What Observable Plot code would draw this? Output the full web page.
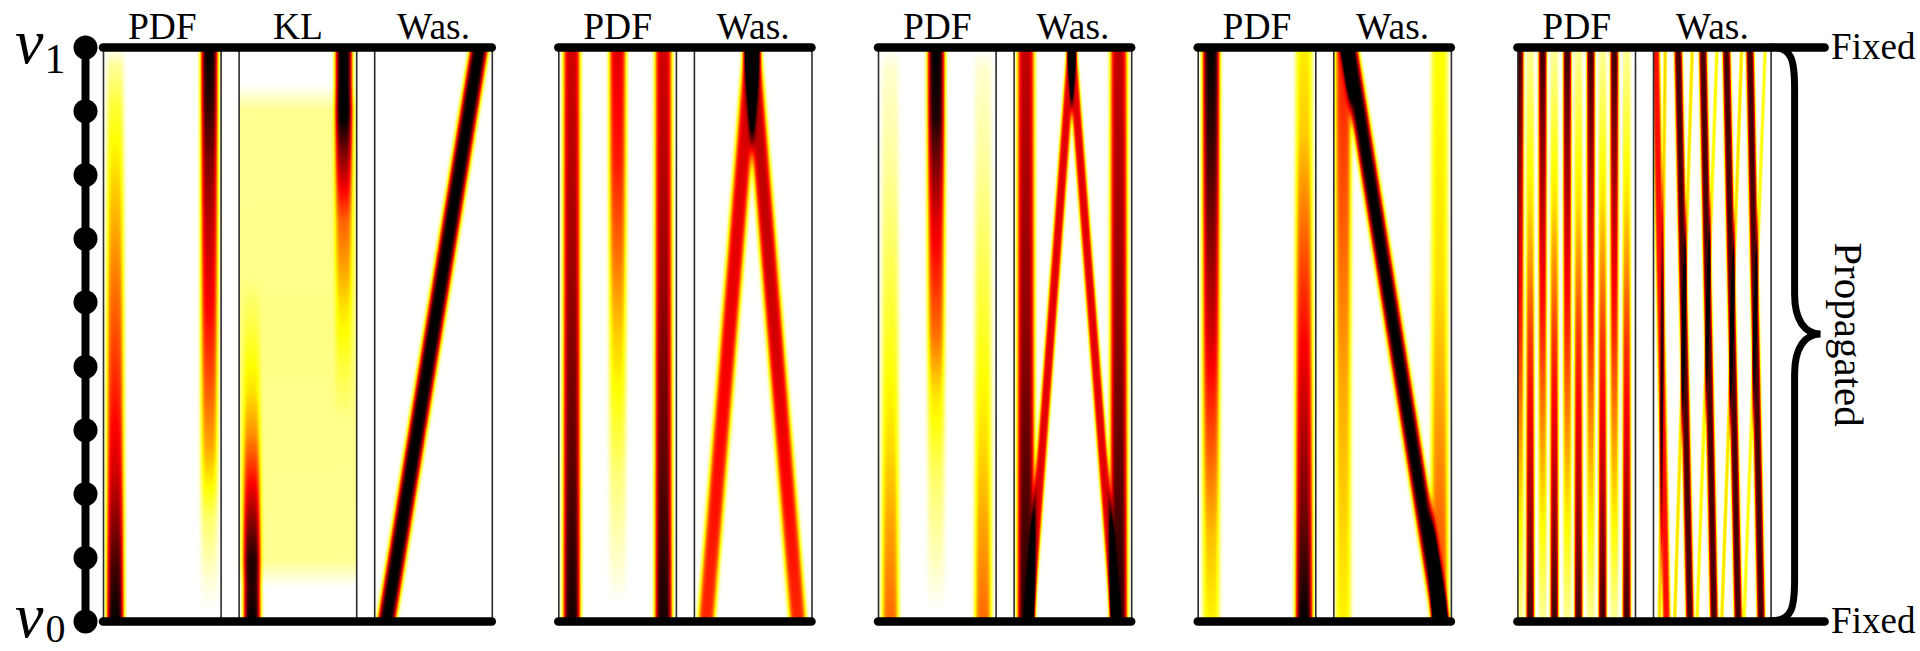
<!DOCTYPE html>
<html><head><meta charset="utf-8">
<script src="https://cdn.jsdelivr.net/npm/d3@7"></script>
<script src="https://cdn.jsdelivr.net/npm/@observablehq/plot@0.6"></script>
<style>
html,body{margin:0;padding:0;background:#fff;}
#chart svg{display:block;}
#chart svg text{font-family:"Liberation Serif","DejaVu Serif","Times New Roman",serif !important;}
</style>
</head><body><div id="chart"></div>
<script>
// ---------- data ----------
const groupTitles = [["PDF","KL","Was."],["PDF","Was."],["PDF","Was."],["PDF","Was."],["PDF","Was."]];
const nodeLevels = [0, 0.111, 0.222, 0.333, 0.444, 0.556, 0.667, 0.778, 0.889, 1];
const nodeNames = [{v:"v", sub:"1", level:1}, {v:"v", sub:"0", level:0}];
const endLabels = [{text:"Fixed", level:1}, {text:"Fixed", level:0}];
const braceLabel = "Propagated";

// each band: position in panel at top (v1) and bottom (v0), spread, peak value by level [level, value]
const pdf1 = [
  {top:0.10, bottom:0.10, spread:0.062, levels:[[1,0],[0.97,0.1],[0.9,0.2],[0.75,0.33],[0.56,0.48],[0.385,0.6],[0.26,0.7],[0.21,0.76],[0.1,0.9],[0,1]]},
  {top:0.90, bottom:0.90, spread:0.062, levels:[[1,1],[0.9,0.93],[0.8,0.82],[0.7,0.74],[0.56,0.65],[0.45,0.55],[0.385,0.48],[0.3,0.38],[0.245,0.28],[0.18,0.15],[0.07,0.04],[0.02,0]]}
];
const kl1 = [
  {top:0.10, bottom:0.11, spread:0.062, levels:[[0.6,0],[0.5,0.08],[0.4,0.18],[0.33,0.3],[0.28,0.42],[0.23,0.55],[0.18,0.68],[0.12,0.82],[0.07,0.93],[0,1]]},
  {top:0.89, bottom:0.89, spread:0.062, levels:[[1,1],[0.93,1],[0.87,0.88],[0.82,0.72],[0.76,0.55],[0.7,0.38],[0.62,0.28],[0.55,0.18],[0.45,0.08],[0.35,0]]},
  {top:0.50, bottom:0.50, spread:1.5, levels:[[1,0],[0.935,0],[0.89,0.11],[0.5,0.12],[0.107,0.11],[0.06,0]]}
];
const was1 = [
  {top:0.89, bottom:0.10, spread:0.066, levels:[[1,1],[0,1]]}
];
const pdf2 = [
  {top:0.11, bottom:0.11, spread:0.062, levels:[[1,0.7],[0.6,0.78],[0.3,0.86],[0,0.97]]},
  {top:0.50, bottom:0.50, spread:0.062, levels:[[1,0.68],[0.8,0.6],[0.65,0.48],[0.5,0.33],[0.4,0.25],[0.25,0.13],[0.1,0.05],[0.03,0]]},
  {top:0.89, bottom:0.89, spread:0.062, levels:[[1,0.7],[0.6,0.78],[0.3,0.86],[0,0.97]]}
];
const was2 = [
  {top:0.49, bottom:0.10, spread:0.062, levels:[[1,0.7],[0.5,0.66],[0,0.58]]},
  {top:0.49, bottom:0.88, spread:0.062, levels:[[1,0.74],[0.5,0.7],[0,0.58]]}
];
const pdf3 = [
  {top:0.10, bottom:0.10, spread:0.062, levels:[[1,0],[0.96,0.05],[0.8,0.1],[0.6,0.18],[0.45,0.24],[0.3,0.31],[0.15,0.4],[0,0.48]]},
  {top:0.49, bottom:0.49, spread:0.062, levels:[[1,1],[0.88,0.96],[0.8,0.83],[0.7,0.68],[0.6,0.58],[0.5,0.47],[0.4,0.3],[0.25,0.15],[0.1,0.06],[0.02,0]]},
  {top:0.89, bottom:0.89, spread:0.062, levels:[[1,0],[0.96,0.05],[0.8,0.1],[0.6,0.18],[0.45,0.24],[0.3,0.31],[0.15,0.4],[0,0.48]]}
];
const was3 = [
  {top:0.10, bottom:0.10, spread:0.062, levels:[[1,0.72],[0.5,0.8],[0,0.95]]},
  {top:0.89, bottom:0.89, spread:0.062, levels:[[1,0.72],[0.5,0.8],[0,0.95]]},
  {top:0.49, bottom:0.13, spread:0.036, levels:[[1,0.68],[0,0.68]]},
  {top:0.49, bottom:0.86, spread:0.036, levels:[[1,0.68],[0,0.68]]}
];
const pdf4 = [
  {top:0.11, bottom:0.11, spread:0.062, levels:[[1,1],[0.85,0.93],[0.7,0.83],[0.5,0.7],[0.3,0.5],[0.15,0.35],[0,0.27]]},
  {top:0.90, bottom:0.90, spread:0.062, levels:[[1,0.28],[0.85,0.33],[0.6,0.55],[0.4,0.7],[0.2,0.83],[0,1]]}
];
const was4 = [
  {top:0.08, bottom:0.08, spread:0.058, levels:[[1,0.6],[0.7,0.5],[0.4,0.38],[0,0.27]]},
  {top:0.90, bottom:0.90, spread:0.062, levels:[[1,0.25],[0.6,0.3],[0.3,0.42],[0,0.55]]},
  {top:0.13, bottom:0.91, spread:0.062, levels:[[1,1],[0,1]]}
];
const pdf5A = [0.014, 0.21, 0.42, 0.62, 0.82];
const pdf5B = [0.105, 0.31, 0.515, 0.72, 0.925];
const pdf5ALevels = [[1,0.92],[0.73,0.74],[0.5,0.58],[0.24,0.33],[0,0.1]];
const pdf5BLevels = [[1,0.1],[0.73,0.3],[0.5,0.55],[0.24,0.74],[0,0.92]];
const was5ThickTop = [0.02, 0.21, 0.42, 0.62, 0.82];
const was5ThickBottom = [0.11, 0.31, 0.515, 0.72, 0.915];
const was5ThickPeak = [0.62, 0.9, 0.9, 0.9, 0.9];
const was5ThinTop = [0.10, 0.33, 0.54, 0.75, 0.95];
const was5ThinBottom = [0.05, 0.18, 0.37, 0.58, 0.77];
const was5ThinPeak = [0.32, 0.3, 0.26, 0.3, 0.24];

const pdf5 = [
  ...pdf5A.map(c => ({top:c, bottom:c, spread:0.03, levels:pdf5ALevels})),
  ...pdf5B.map(c => ({top:c, bottom:c, spread:0.03, levels:pdf5BLevels}))
];
const was5 = [
  ...was5ThickTop.map((c,i) => ({top:c, bottom:was5ThickBottom[i], spread:0.029, levels:[[1,was5ThickPeak[i]],[0,was5ThickPeak[i]]]})),
  ...was5ThinTop.map((c,i) => ({top:c, bottom:was5ThinBottom[i], spread:0.013, levels:[[1,was5ThinPeak[i]],[0,was5ThinPeak[i]]]}))
];
const panelBands = [pdf1, kl1, was1, pdf2, was2, pdf3, was3, pdf4, was4, pdf5, was5];

// ---------- layout (panel width = 1 unit) ----------
const FONT = "Liberation Serif";
const PX = 117.6;
const gapIn = 18 / PX, gapOut = 66.5 / PX;
const panels = [], groups = [];
let cursor = 0;
groupTitles.forEach((titles) => {
  const start = cursor;
  titles.forEach((t, i) => {
    panels.push({title: t, left: cursor});
    cursor += 1;
    if (i < titles.length - 1) cursor += gapIn;
  });
  groups.push({start, end: cursor});
  cursor += gapOut;
});
const lastGroup = groups[groups.length - 1];
const nodeX = -gapIn;
const xMin = -103 / PX, xMax = (1920 - 103) / PX;

const hot = d3.scaleLinear().domain([0, 0.254, 0.635, 1])
  .range(["#ffffff", "#ffff00", "#ff0000", "#000000"]).clamp(true);

function profile(levels) {
  const L = levels.slice().sort((a, b) => a[0] - b[0]);
  return y => {
    if (y <= L[0][0]) return L[0][1];
    if (y >= L[L.length-1][0]) return L[L.length-1][1];
    for (let k = 1; k < L.length; k++) {
      if (y <= L[k][0]) {
        const [y0, v0] = L[k-1], [y1, v1] = L[k];
        return v0 + (v1 - v0) * (y - y0) / (y1 - y0);
      }
    }
    return 0;
  };
}
// flat-topped bump (generalized Gaussian, exponent 4)
function density(p) {
  const left = panels[p].left;
  const bs = panelBands[p].map(b => ({...b, f: profile(b.levels)}));
  return (x, y) => {
    const u = x - left;
    let v = 0;
    for (const b of bs) {
      const c = b.bottom + (b.top - b.bottom) * y;
      const d = (u - c) / b.spread;
      const d2 = d * d;
      v += b.f(y) * Math.exp(-0.5 * d2 * d2);
    }
    return Math.min(1, v);
  };
}

const edges = panels.flatMap(p => [{x: p.left}, {x: p.left + 1}]);
const groupLines = groups.flatMap((g, i) => {
  const x2 = i === groups.length - 1 ? g.end + 54 / PX : g.end;
  return [{x1: g.start, x2, y: 1}, {x1: g.start, x2, y: 0}];
});

const brace = (index, scales) => {
  const xs = scales.x, ys = scales.y;
  const xr = xs(lastGroup.end), xb = xr + 24, xt = xr + 50;
  const yt = ys(1), yb = ys(0), ym = (yt + yb) / 2;
  const d = `M${xr},${yt} C${xb-2},${yt} ${xb},${yt+14} ${xb},${yt+42}` +
    ` L${xb},${ym-40} C${xb},${ym-14} ${xb+10},${ym} ${xt},${ym}` +
    ` C${xb+10},${ym} ${xb},${ym+14} ${xb},${ym+40}` +
    ` L${xb},${yb-42} C${xb},${yb-14} ${xb-2},${yb} ${xr},${yb}`;
  const path = d3.create("svg:path").attr("d", d).attr("fill", "none")
    .attr("stroke", "black").attr("stroke-width", 7).attr("stroke-linecap", "round");
  return path.node();
};

const topName = nodeNames.filter(d => d.level === 1);
const bottomName = nodeNames.filter(d => d.level === 0);

const chart = Plot.plot({
  width: 1920, height: 651, margin: 0,
  style: {fontFamily: FONT, background: "white"},
  x: {domain: [xMin, xMax], range: [0, 1920], axis: null},
  y: {domain: [0, 1], range: [621, 47], axis: null},
  color: {type: "linear", domain: [0, 1], interpolate: t => hot(t)},
  marks: [
    ...panels.map((p, i) => Plot.raster({
      x1: p.left, x2: p.left + 1, y1: 0, y2: 1, width: 236, height: 288,
      fill: density(i), imageRendering: "auto"
    })),
    Plot.ruleX(edges, {x: "x", y1: 0, y2: 1, stroke: "#2b2b2b", strokeWidth: 1.6}),
    Plot.ruleY(groupLines, {x1: "x1", x2: "x2", y: "y", stroke: "black", strokeWidth: 8.5, strokeLinecap: "round"}),
    Plot.ruleX([{x: nodeX}], {x: "x", y1: 0, y2: 1, stroke: "black", strokeWidth: 8}),
    Plot.dot(nodeLevels, {x: () => nodeX, y: d => d, r: 12, fill: "black"}),
    Plot.text(panels, {x: d => d.left + 0.5, y: () => 1, text: "title", lineAnchor: "bottom", dy: -9, fontSize: 37.5, fontFamily: FONT, fill: "black"}),
    Plot.text(topName, {x: () => nodeX, y: "level", text: "v", textAnchor: "end", lineAnchor: "bottom", dx: -42, dy: 15, fontSize: 64, fontStyle: "italic", fontFamily: FONT, fill: "black"}),
    Plot.text(topName, {x: () => nodeX, y: "level", text: "sub", textAnchor: "end", lineAnchor: "bottom", dx: -20, dy: 25, fontSize: 42, fontFamily: FONT, fill: "black"}),
    Plot.text(bottomName, {x: () => nodeX, y: "level", text: "v", textAnchor: "end", lineAnchor: "bottom", dx: -42, dy: 15, fontSize: 64, fontStyle: "italic", fontFamily: FONT, fill: "black"}),
    Plot.text(bottomName, {x: () => nodeX, y: "level", text: "sub", textAnchor: "end", lineAnchor: "bottom", dx: -20, dy: 20, fontSize: 40, fontFamily: FONT, fill: "black"}),
    Plot.text(endLabels, {x: () => lastGroup.end + 60 / PX, y: "level", text: "text", textAnchor: "start", lineAnchor: "middle", fontSize: 37, fontFamily: FONT, fill: "black"}),
    Plot.text([braceLabel], {x: () => lastGroup.end + 77 / PX, y: () => 0.5, text: d => d, rotate: 90, textAnchor: "middle", lineAnchor: "middle", fontSize: 41, fontFamily: FONT, fill: "black"}),
    brace
  ]
});
document.getElementById("chart").append(chart);
</script></body></html>
